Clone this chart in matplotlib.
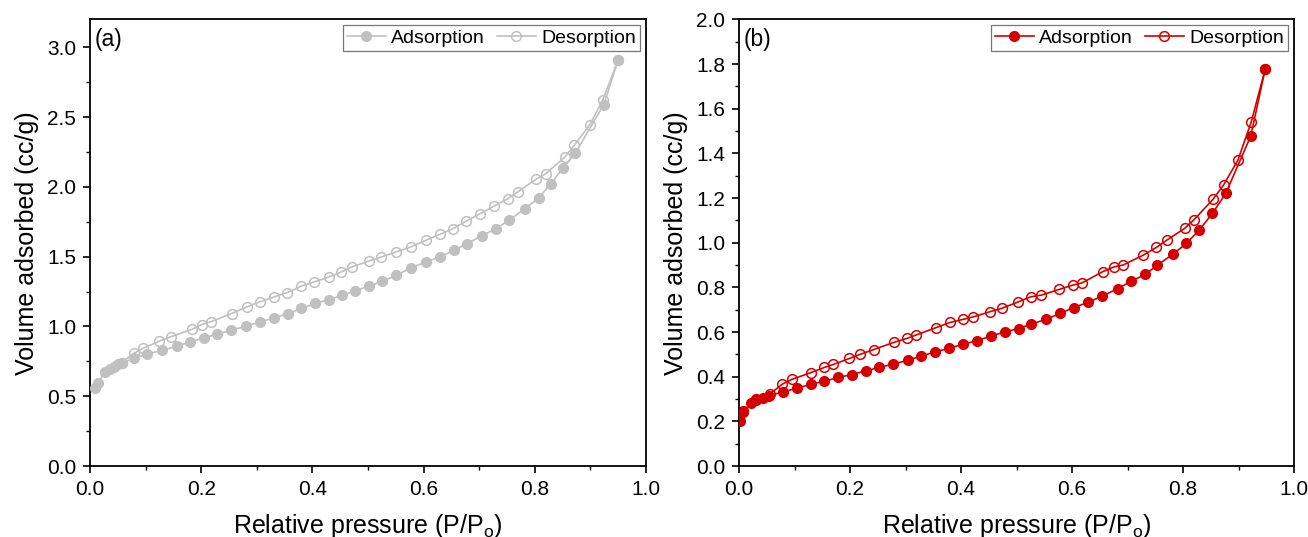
import matplotlib
matplotlib.use("Agg")
import matplotlib.pyplot as plt
from matplotlib.ticker import MultipleLocator

plt.rcParams['font.family'] = ['Liberation Sans', 'DejaVu Sans']
plt.rcParams['mathtext.fontset'] = 'custom'
plt.rcParams['mathtext.rm'] = 'Liberation Sans'

# panel (a) - grey sample
ads_a_x = [0.009, 0.014, 0.027, 0.036, 0.043, 0.051, 0.057, 0.080, 0.102, 0.130,
           0.157, 0.180, 0.205, 0.229, 0.254, 0.280, 0.306, 0.331, 0.356, 0.380,
           0.405, 0.430, 0.454, 0.477, 0.502, 0.526, 0.551, 0.577, 0.604, 0.629,
           0.655, 0.678, 0.705, 0.730, 0.754, 0.782, 0.807, 0.829, 0.851, 0.873,
           0.924, 0.950]
ads_a_y = [0.563, 0.592, 0.675, 0.694, 0.711, 0.728, 0.740, 0.771, 0.802, 0.830,
           0.859, 0.890, 0.918, 0.945, 0.973, 1.002, 1.033, 1.062, 1.093, 1.129,
           1.165, 1.193, 1.224, 1.255, 1.290, 1.324, 1.367, 1.420, 1.462, 1.498,
           1.545, 1.594, 1.650, 1.701, 1.761, 1.845, 1.921, 2.024, 2.135, 2.243,
           2.589, 2.911]
des_a_x = [0.950, 0.922, 0.899, 0.871, 0.854, 0.820, 0.802, 0.769, 0.752, 0.727,
           0.702, 0.676, 0.653, 0.629, 0.604, 0.577, 0.551, 0.524, 0.502, 0.471,
           0.452, 0.430, 0.403, 0.380, 0.354, 0.331, 0.305, 0.282, 0.255, 0.217,
           0.201, 0.183, 0.145, 0.125, 0.095, 0.080, 0.057]
des_a_y = [2.911, 2.620, 2.446, 2.298, 2.214, 2.095, 2.054, 1.963, 1.916, 1.863,
           1.809, 1.754, 1.701, 1.659, 1.618, 1.570, 1.534, 1.498, 1.470, 1.427,
           1.391, 1.355, 1.319, 1.289, 1.241, 1.212, 1.176, 1.140, 1.093, 1.033,
           1.014, 0.979, 0.926, 0.895, 0.843, 0.811, 0.742]

# panel (b) - red sample
ads_b_x = [0.002, 0.007, 0.021, 0.031, 0.043, 0.054, 0.080, 0.104, 0.130, 0.154,
           0.179, 0.203, 0.229, 0.253, 0.278, 0.304, 0.328, 0.354, 0.378, 0.404,
           0.428, 0.454, 0.479, 0.504, 0.527, 0.553, 0.579, 0.603, 0.629, 0.654,
           0.683, 0.707, 0.732, 0.754, 0.782, 0.806, 0.829, 0.853, 0.877, 0.922,
           0.948]
ads_b_y = [0.200, 0.243, 0.281, 0.295, 0.307, 0.315, 0.333, 0.348, 0.367, 0.380,
           0.397, 0.410, 0.427, 0.442, 0.457, 0.474, 0.492, 0.512, 0.527, 0.546,
           0.561, 0.582, 0.601, 0.616, 0.636, 0.657, 0.684, 0.710, 0.733, 0.761,
           0.795, 0.828, 0.858, 0.900, 0.949, 0.997, 1.056, 1.131, 1.221, 1.477,
           1.776]
des_b_x = [0.948, 0.923, 0.899, 0.873, 0.854, 0.819, 0.803, 0.771, 0.752, 0.728,
           0.692, 0.676, 0.655, 0.618, 0.601, 0.577, 0.544, 0.526, 0.503, 0.473,
           0.452, 0.422, 0.404, 0.380, 0.355, 0.318, 0.303, 0.279, 0.243, 0.218,
           0.199, 0.170, 0.154, 0.130, 0.095, 0.078, 0.055, 0.030, 0.008]
des_b_y = [1.776, 1.541, 1.370, 1.258, 1.194, 1.101, 1.064, 1.012, 0.979, 0.944,
           0.900, 0.892, 0.870, 0.820, 0.810, 0.791, 0.765, 0.758, 0.735, 0.706,
           0.691, 0.668, 0.657, 0.643, 0.620, 0.586, 0.572, 0.554, 0.522, 0.500,
           0.482, 0.455, 0.442, 0.419, 0.388, 0.367, 0.322, 0.300, 0.245]

panels = [
    dict(pos=[0.0688, 0.132, 0.4251, 0.832], ads=(ads_a_x, ads_a_y), des=(des_a_x, des_a_y),
         color='#c0c0c0', ylim=3.2, major=0.5, minor=0.25, tag='(a)'),
    dict(pos=[0.5650, 0.132, 0.4243, 0.832], ads=(ads_b_x, ads_b_y), des=(des_b_x, des_b_y),
         color='#d40000', ylim=2.0, major=0.2, minor=0.1, tag='(b)'),
]

fig = plt.figure(figsize=(13.08, 5.37), dpi=100)

for p in panels:
    ax = fig.add_axes(p['pos'])
    c = p['color']
    ax.plot(p['ads'][0], p['ads'][1], '-o', color=c, mfc=c, mec=c, ms=7, lw=1.2,
            label='Adsorption', zorder=3)
    ax.plot(p['des'][0], p['des'][1], '-o', color=c, mfc='none', mec=c, ms=7, mew=1.1,
            lw=1.2, label='Desorption', zorder=2)
    ax.set_xlim(0, 1.0)
    ax.set_ylim(0, p['ylim'])
    ax.xaxis.set_major_locator(MultipleLocator(0.2))
    ax.xaxis.set_minor_locator(MultipleLocator(0.1))
    ax.yaxis.set_major_locator(MultipleLocator(p['major']))
    ax.yaxis.set_minor_locator(MultipleLocator(p['minor']))
    ax.tick_params(which='major', direction='out', length=5, width=1.2, labelsize=15,
                   top=False, right=False, pad=5)
    ax.tick_params(which='minor', direction='out', length=3, width=1.0, top=False, right=False)
    for s in ax.spines.values():
        s.set_linewidth(1.3)
    ax.set_xlabel(r'Relative pressure (P/P$_\mathregular{o}$)', fontsize=18, labelpad=9)
    ax.set_ylabel('Volume adsorbed (cc/g)', fontsize=18, labelpad=6)
    ax.text(0.008, 0.98, p['tag'], transform=ax.transAxes, ha='left', va='top', fontsize=16.5)
    leg = ax.legend(loc='upper right', ncol=2, fontsize=14, frameon=True, fancybox=False,
                    edgecolor='#555555', handlelength=2.0, handletextpad=0.3,
                    columnspacing=0.6, borderpad=0.2, borderaxespad=0.3)
    leg.get_frame().set_linewidth(0.9)

fig.savefig('out.png', dpi=100)
